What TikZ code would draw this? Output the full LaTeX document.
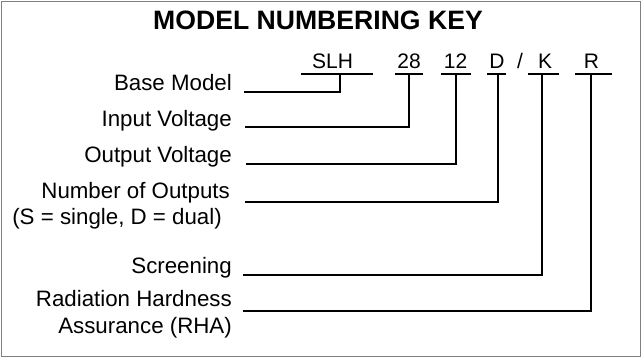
\documentclass[tikz,border=0pt]{standalone}
\usepackage{fontspec}
\setmainfont{Liberation Sans}
\begin{document}
\begin{tikzpicture}[x=1pt,y=-1pt,
  frame/.style={draw=black!50,line width=1.5pt},
  ttl/.style={anchor=base,inner sep=0pt,font=\fontsize{26.6}{28}\selectfont\bfseries},
  lbl/.style={anchor=base east,inner sep=0pt,font=\fontsize{22.3}{24}\selectfont},
  code/.style={anchor=base,inner sep=0pt,font=\fontsize{21}{22}\selectfont},
  conn/.style={line width=2.6pt,line join=miter},
  uline/.style={line width=2.6pt}]
\useasboundingbox (0,0) rectangle (642,358);
\draw[frame] (1.5,1.5) rectangle (640.5,356.5);
\node[ttl] (title) at (318,30) {MODEL NUMBERING KEY};
% code letters
\node[code] (cSLH) at (332.5,69) {SLH};
\node[code] (c28) at (409,69) {28};
\node[code] (c12) at (455.5,69) {12};
\node[code] (cD) at (497,69) {D};
\node[code] (cslash) at (520,69) {/};
\node[code] (cK) at (545,69) {K};
\node[code] (cR) at (591.5,69) {R};
% underline ends and junctions
\coordinate (uSLHa) at (301,74); \coordinate (uSLHb) at (373,74); \coordinate (jSLH) at (340,74);
\coordinate (u28a) at (395,74); \coordinate (u28b) at (423,74); \coordinate (j28) at (409,74);
\coordinate (u12a) at (441,74); \coordinate (u12b) at (471,74); \coordinate (j12) at (456,74);
\coordinate (uDa) at (487,74); \coordinate (uDb) at (506,74); \coordinate (jD) at (498,74);
\coordinate (uKa) at (528,74); \coordinate (uKb) at (559,74); \coordinate (jK) at (542,74);
\coordinate (uRa) at (575,74); \coordinate (uRb) at (612,74); \coordinate (jR) at (591,74);
\foreach \n in {SLH,28,12,D,K,R} {\draw[uline] (u\n a) -- (u\n b);}
% labels
\node[lbl] (lBase) at (232,91) {Base Model};
\node[lbl] (lIn) at (232,126.5) {Input Voltage};
\node[lbl] (lOut) at (232,163) {Output Voltage};
\node[lbl] (lNum) at (230,199) {Number of Outputs};
\node[lbl] (lNum2) at (222,224) {(S = single, D = dual)};
\node[lbl] (lScr) at (232,273) {Screening};
\node[lbl] (lRad) at (232,306) {Radiation Hardness};
\node[lbl] (lRad2) at (232,333) {Assurance (RHA)};
% connector starts
\coordinate (sBase) at (244,92);
\coordinate (sIn) at (245,127);
\coordinate (sOut) at (246,164);
\coordinate (sNum) at (245,202);
\coordinate (sScr) at (243,275);
\coordinate (sRad) at (243,311);
\draw[conn] (sBase) -| (jSLH);
\draw[conn] (sIn) -| (j28);
\draw[conn] (sOut) -| (j12);
\draw[conn] (sNum) -| (jD);
\draw[conn] (sScr) -| (jK);
\draw[conn] (sRad) -| (jR);
\end{tikzpicture}
\end{document}
